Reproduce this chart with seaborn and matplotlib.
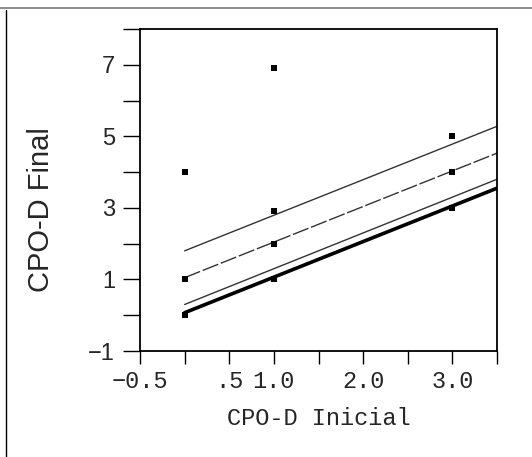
import matplotlib
matplotlib.use("Agg")
import matplotlib.pyplot as plt
import seaborn as sns
import pandas as pd
from matplotlib.lines import Line2D

# Data
point_x = [0, 0, 0, 1, 1, 1, 1, 3, 3, 3]
point_y = [4.0, 1.0, 0.0, 6.9, 2.9, 2.0, 1.0, 5.0, 4.0, 3.0]

line_x = [0, 3.5]
line_a = [1.80, 5.28]
line_b = [1.05, 4.53]
line_c = [0.30, 3.80]
line_d = [0.07, 3.55]

x_ticks = [-0.5, 0, 0.5, 1.0, 1.5, 2.0, 2.5, 3.0, 3.5]
x_ticklabels = ["\u22120.5", "", ".5", "1.0", "", "2.0", "", "3.0", ""]
y_ticks = [-1, 0, 1, 2, 3, 4, 5, 6, 7, 8]
y_ticklabels = ["\u22121", "", "1", "", "3", "", "5", "", "7", ""]

sns.set_style("ticks")
plt.rcParams['font.family'] = ['Liberation Sans', 'DejaVu Sans']

fig = plt.figure(figsize=(5.32, 4.57), dpi=100)
ax = fig.add_axes([140/532, 1 - 351/457, (497 - 140)/532, (351 - 29)/457])

pts = pd.DataFrame({"x": point_x, "y": point_y})
sns.scatterplot(data=pts, x="x", y="y", marker="s", s=14, color="black",
                edgecolor="black", linewidth=0, ax=ax, zorder=5)

styles = [
    (line_a, dict(color="#333333", linewidth=1.0, linestyle="-")),
    (line_b, dict(color="#333333", linewidth=1.0, linestyle=(0, (12, 2)))),
    (line_c, dict(color="#333333", linewidth=1.0, linestyle="-")),
    (line_d, dict(color="black", linewidth=2.6, linestyle="-")),
]
for vals, kw in styles:
    df = pd.DataFrame({"x": line_x, "y": vals})
    sns.lineplot(data=df, x="x", y="y", ax=ax, **kw)

ax.set_xlim(-0.5, 3.5)
ax.set_ylim(-1, 8)
ax.set_xticks(x_ticks)
ax.set_xticklabels(x_ticklabels, fontfamily="Liberation Mono", fontsize=17)
ax.set_yticks(y_ticks)
ax.set_yticklabels(y_ticklabels, fontsize=17)
ax.tick_params(axis="y", direction="out", length=12, width=1.0, color="black", pad=6)
ax.tick_params(axis="x", direction="out", length=9, width=1.0, color="black", pad=5)

for sp in ax.spines.values():
    sp.set_visible(True)
    sp.set_color("black")
    sp.set_linewidth(1.3)

ax.set_xlabel("CPO-D Inicial", fontfamily="Liberation Mono", fontsize=17, labelpad=10)
ax.set_ylabel("CPO-D Final", fontsize=21)
ax.yaxis.set_label_coords(-0.238, 0.438)

# outer scan frame
fig.add_artist(Line2D([0, 1], [1 - 8/457, 1 - 8/457], transform=fig.transFigure,
                      color="#777777", linewidth=1.2))
fig.add_artist(Line2D([6/532, 6/532], [0, 1 - 10/457], transform=fig.transFigure,
                      color="black", linewidth=1.0))

fig.savefig("out.png", dpi=100, facecolor="white")
